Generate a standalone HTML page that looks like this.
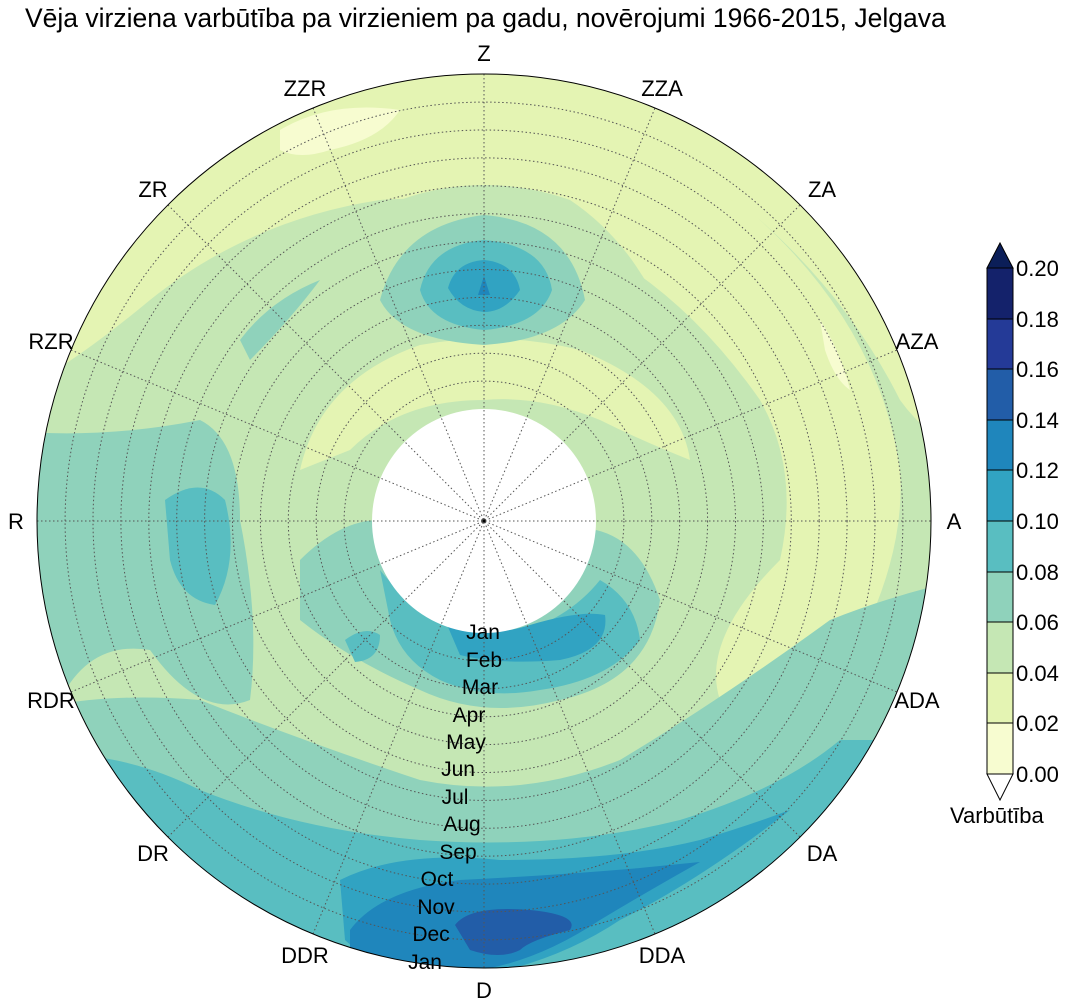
<!DOCTYPE html>
<html><head><meta charset="utf-8"><style>
html,body{margin:0;padding:0;background:#fff;}
svg{display:block;font-family:"Liberation Sans",Arial,sans-serif;}
</style></head><body>
<svg width="1065" height="1008" viewBox="0 0 1065 1008" xmlns="http://www.w3.org/2000/svg">
<defs><clipPath id="c"><circle cx="484" cy="521" r="447"/></clipPath></defs>
<text x="25" y="27" font-size="26.5" fill="#000">Vēja virziena varbūtība pa virzieniem pa gadu, novērojumi 1966-2015, Jelgava</text>
<g clip-path="url(#c)">
<rect x="0" y="0" width="1065" height="1008" fill="#c5e7b4"/>
<path d="M40,360 Q120,200 230,150 Q350,100 484,110 Q640,115 760,220 Q880,330 900,470 Q905,540 870,620 Q820,700 720,700 Q700,640 780,560 Q800,470 760,400 Q690,300 600,250 Q500,190 380,200 Q250,220 150,300 Q90,350 40,380 Z" fill="#e4f4b3"/>
<path d="M0,0 H1065 V480 Q950,470 900,400 Q850,300 760,220 Q640,130 484,125 Q330,130 230,170 Q120,220 60,330 L0,380 Z" fill="#e4f4b3"/>
<path d="M280,130 Q330,100 400,110 Q380,140 330,150 Q300,160 280,150 Z" fill="#f7fcd0"/>
<path d="M820,320 Q840,350 850,390 Q835,380 825,350 Z" fill="#f7fcd0"/>
<path d="M300,470 Q320,380 420,345 Q500,330 580,350 Q680,390 690,460 Q640,440 600,420 Q540,395 484,400 Q400,400 350,450 Z" fill="#e4f4b3"/>
<path d="M240,380 Q300,250 400,200 Q484,170 570,200 Q660,260 690,400 Q640,370 560,330 Q484,330 400,340 Q320,350 240,380 Z" fill="#c5e7b4"/>
<path d="M380,300 Q400,225 484,215 Q570,222 585,300 Q560,340 484,345 Q400,340 380,300 Z" fill="#8fd2bb"/>
<path d="M420,290 Q430,245 484,240 Q545,245 552,290 Q540,325 484,330 Q430,325 420,290 Z" fill="#59bec1"/>
<path d="M448,288 Q455,262 484,260 Q515,263 520,290 Q505,312 484,312 Q460,310 448,288 Z" fill="#31a3c2"/>
<path d="M478,295 L484,276 L490,295 Z" fill="#1f86bc"/>
<path d="M240,340 Q270,300 320,280 Q290,320 250,360 Z" fill="#8fd2bb"/>
<path d="M0,430 Q100,440 200,420 Q240,440 240,520 Q260,620 250,700 Q200,720 150,650 Q90,640 60,700 L0,720 Z" fill="#8fd2bb"/>
<path d="M165,500 Q200,475 225,500 Q240,560 215,605 Q180,600 170,560 Z" fill="#59bec1"/>
<path d="M0,720 Q80,690 200,700 Q300,740 420,780 Q520,800 620,760 Q720,700 830,620 Q930,580 1065,560 V1008 H0 Z" fill="#8fd2bb"/>
<path d="M0,760 Q100,740 200,790 Q300,830 420,840 Q560,850 680,820 Q780,790 840,740 L1065,740 V1008 H0 Z" fill="#59bec1"/>
<path d="M340,880 Q400,850 500,860 Q620,860 700,840 Q750,825 790,810 Q700,880 620,920 Q560,960 484,975 Q380,975 345,940 Z" fill="#31a3c2"/>
<path d="M350,930 Q380,890 460,880 Q560,875 640,868 Q680,864 700,862 Q650,890 600,920 Q540,960 480,970 Q400,972 350,955 Z" fill="#1f86bc"/>
<path d="M455,925 Q470,905 530,910 Q580,915 570,930 Q530,940 520,950 Q500,960 470,950 Z" fill="#225da8"/>
<path d="M300,560 Q340,520 380,520 Q400,600 484,630 Q570,610 596,530 Q640,540 660,600 Q650,680 560,700 Q484,720 420,690 Q350,660 300,620 Z" fill="#8fd2bb"/>
<path d="M380,570 Q420,620 484,640 Q560,630 600,580 Q635,600 640,640 Q610,680 540,690 Q484,700 440,680 Q400,660 390,620 Z" fill="#59bec1"/>
<path d="M445,620 Q484,640 530,625 Q580,610 605,615 Q610,650 560,660 Q500,665 460,655 Z" fill="#31a3c2"/>
<path d="M345,640 Q365,625 380,635 Q380,660 355,662 Z" fill="#59bec1"/>
</g>
<circle cx="484" cy="521" r="112" fill="#fff"/>
<g fill="none" stroke="#555" stroke-width="1" stroke-dasharray="1.5,2.5">
<circle cx="484" cy="521" r="139.9"/><circle cx="484" cy="521" r="167.8"/><circle cx="484" cy="521" r="195.7"/><circle cx="484" cy="521" r="223.6"/><circle cx="484" cy="521" r="251.5"/><circle cx="484" cy="521" r="279.4"/><circle cx="484" cy="521" r="307.3"/><circle cx="484" cy="521" r="335.2"/><circle cx="484" cy="521" r="363.1"/><circle cx="484" cy="521" r="391"/><circle cx="484" cy="521" r="418.9"/>
<path d="M484,74V968M37,521H931M168,205L800,837M168,837L800,205M313,108L655,934M313,934L655,108M71,350L897,692M71,692L897,350"/>
</g>
<circle cx="484" cy="521" r="447" fill="none" stroke="#000" stroke-width="1"/>
<circle cx="484" cy="521" r="1.5" fill="#000"/>
<g font-size="22" fill="#000" text-anchor="middle">
<text x="484" y="61">Z</text><text x="662" y="96">ZZA</text><text x="822" y="197">ZA</text><text x="917" y="349">AZA</text><text x="954" y="529">A</text><text x="917" y="708">ADA</text><text x="822" y="861">DA</text><text x="662" y="963">DDA</text><text x="484" y="998">D</text><text x="305" y="963">DDR</text><text x="153" y="861">DR</text><text x="51" y="708">RDR</text><text x="51" y="349">RZR</text><text x="153" y="197">ZR</text><text x="305" y="96">ZZR</text><text x="16" y="529">R</text>
</g>
<g font-size="21" fill="#000" text-anchor="middle">
<text x="483" y="639">Jan</text><text x="484" y="667">Feb</text><text x="480" y="694">Mar</text><text x="469" y="722">Apr</text><text x="466" y="749">May</text><text x="458" y="776">Jun</text><text x="455" y="804">Jul</text><text x="462" y="831">Aug</text><text x="458" y="859">Sep</text><text x="437" y="886">Oct</text><text x="436" y="914">Nov</text><text x="431" y="941">Dec</text><text x="425" y="969">Jan</text>
</g>
<g stroke="none">
<rect x="987" y="268" width="26" height="51" fill="#14226b"/>
<rect x="987" y="319" width="26" height="51" fill="#243a97"/>
<rect x="987" y="369" width="26" height="51" fill="#225da8"/>
<rect x="987" y="420" width="26" height="51" fill="#1f86bc"/>
<rect x="987" y="470" width="26" height="51" fill="#31a3c2"/>
<rect x="987" y="521" width="26" height="51" fill="#59bec1"/>
<rect x="987" y="572" width="26" height="51" fill="#8fd2bb"/>
<rect x="987" y="622" width="26" height="51" fill="#c5e7b4"/>
<rect x="987" y="673" width="26" height="51" fill="#e4f4b3"/>
<rect x="987" y="723" width="26" height="51" fill="#f7fcd0"/>
</g>
<path d="M987,268 L1000,243 L1013,268 Z" fill="#0b1e58" stroke="#000"/>
<path d="M987,774 L1000,800 L1013,774 Z" fill="#fff" stroke="#000"/>
<rect x="987" y="268" width="26" height="506" fill="none" stroke="#000"/>
<g stroke="#000"><path d="M987,319h26M987,369h26M987,420h26M987,470h26M987,521h26M987,572h26M987,622h26M987,673h26M987,723h26"/></g>
<g font-size="22" fill="#000">
<text x="1016" y="276">0.20</text><text x="1016" y="327">0.18</text><text x="1016" y="377">0.16</text><text x="1016" y="428">0.14</text><text x="1016" y="478">0.12</text><text x="1016" y="529">0.10</text><text x="1016" y="580">0.08</text><text x="1016" y="630">0.06</text><text x="1016" y="681">0.04</text><text x="1016" y="731">0.02</text><text x="1016" y="782">0.00</text>
<text x="950" y="823">Varbūtība</text>
</g>
</svg>
</body></html>
